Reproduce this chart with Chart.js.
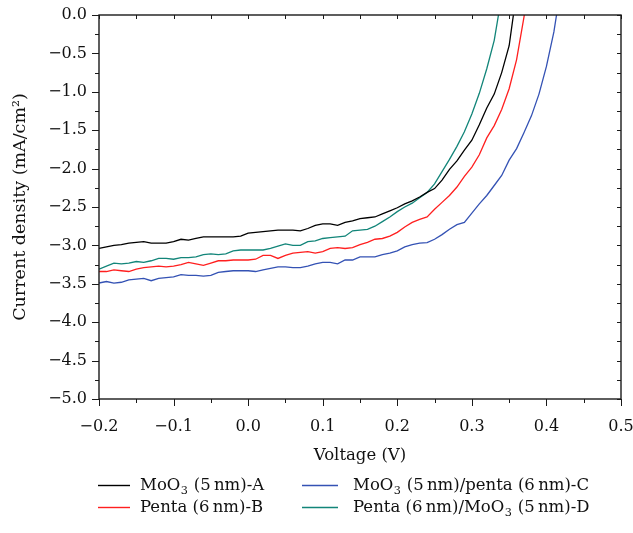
<!DOCTYPE html>
<html lang="en">
<head>
<meta charset="UTF-8">
<title>J–V curves</title>
<script src="https://cdn.jsdelivr.net/npm/chart.js"></script>
<style>
  html, body { margin: 0; padding: 0; background: #fff; }
</style>
</head>
<body>
<canvas id="jv" width="633" height="533"></canvas>
<script>
// voltage (V), 10 mV steps
const voltage = [
  -0.20, -0.19, -0.18, -0.17, -0.16, -0.15, -0.14, -0.13, -0.12, -0.11,
  -0.10, -0.09, -0.08, -0.07, -0.06, -0.05, -0.04, -0.03, -0.02, -0.01,
   0.00,  0.01,  0.02,  0.03,  0.04,  0.05,  0.06,  0.07,  0.08,  0.09,
   0.10,  0.11,  0.12,  0.13,  0.14,  0.15,  0.16,  0.17,  0.18,  0.19,
   0.20,  0.21,  0.22,  0.23,  0.24,  0.25,  0.26,  0.27,  0.28,  0.29,
   0.30,  0.31,  0.32,  0.33,  0.34,  0.35,  0.36,  0.37,  0.38,  0.39,
   0.40,  0.41,  0.42
];

// current density (mA/cm2)
const currentA = [
  -3.04, -3.02, -3.00, -2.99, -2.97, -2.96, -2.95, -2.97, -2.97, -2.97,
  -2.95, -2.92, -2.93, -2.91, -2.89, -2.89, -2.89, -2.89, -2.89, -2.88,
  -2.84, -2.83, -2.82, -2.81, -2.80, -2.80, -2.80, -2.81, -2.78, -2.74,
  -2.72, -2.72, -2.74, -2.70, -2.68, -2.65, -2.64, -2.63, -2.59, -2.55,
  -2.51, -2.46, -2.42, -2.37, -2.31, -2.26, -2.15, -2.01, -1.90, -1.76,
  -1.63, -1.43, -1.21, -1.03, -0.75, -0.40, 0.30
];
const currentB = [
  -3.34, -3.34, -3.32, -3.33, -3.34, -3.31, -3.29, -3.28, -3.27, -3.28,
  -3.27, -3.25, -3.22, -3.24, -3.26, -3.23, -3.20, -3.20, -3.19, -3.19,
  -3.19, -3.18, -3.13, -3.13, -3.17, -3.13, -3.10, -3.09, -3.08, -3.10,
  -3.08, -3.04, -3.03, -3.04, -3.03, -2.99, -2.96, -2.92, -2.91, -2.88,
  -2.83, -2.76, -2.70, -2.66, -2.63, -2.53, -2.44, -2.35, -2.24, -2.10,
  -1.98, -1.82, -1.60, -1.44, -1.23, -0.96, -0.58, -0.02, 0.60
];
const currentC = [
  -3.49, -3.47, -3.49, -3.48, -3.45, -3.44, -3.43, -3.46, -3.43, -3.42,
  -3.41, -3.38, -3.39, -3.39, -3.40, -3.39, -3.35, -3.34, -3.33, -3.33,
  -3.33, -3.34, -3.32, -3.30, -3.28, -3.28, -3.29, -3.29, -3.27, -3.24,
  -3.22, -3.22, -3.24, -3.19, -3.19, -3.15, -3.15, -3.15, -3.12, -3.10,
  -3.07, -3.02, -2.99, -2.97, -2.965, -2.92, -2.86, -2.79, -2.73, -2.70,
  -2.58, -2.46, -2.35, -2.22, -2.09, -1.89, -1.74, -1.53, -1.31, -1.03,
  -0.67, -0.22, 0.40
];
const currentD = [
  -3.31, -3.27, -3.23, -3.24, -3.23, -3.21, -3.22, -3.20, -3.17, -3.17,
  -3.18, -3.16, -3.16, -3.15, -3.12, -3.11, -3.12, -3.11, -3.07, -3.06,
  -3.06, -3.06, -3.06, -3.04, -3.01, -2.98, -3.00, -3.00, -2.95, -2.94,
  -2.91, -2.90, -2.89, -2.88, -2.81, -2.80, -2.79, -2.75, -2.69, -2.63,
  -2.56, -2.50, -2.45, -2.38, -2.31, -2.20, -2.04, -1.88, -1.71, -1.52,
  -1.29, -1.02, -0.70, -0.33, 0.25
];

const seriesLabels = [
  'MoO₃ (5\u2009nm)-A',
  'Penta (6\u2009nm)-B',
  'MoO₃ (5\u2009nm)/penta (6\u2009nm)-C',
  'Penta (6\u2009nm)/MoO₃ (5\u2009nm)-D'
];
const seriesValues = [currentA, currentB, currentC, currentD];
const seriesColors = ['#000000', '#ff1f1f', '#3452b4', '#128579'];

const FONT = '"DejaVu Serif", "Liberation Serif", serif';

function fmt(v) {
  if (Math.abs(v) < 1e-9) return '0.0';
  return v.toFixed(1).replace('-', '\u2212');
}

// draws a label, turning ₃ into a real lowered subscript
function drawRich(ctx, text, x, y, size) {
  const parts = text.split('₃');
  parts.forEach((p, i) => {
    ctx.font = size + 'px ' + FONT;
    ctx.fillText(p, x, y);
    x += ctx.measureText(p).width;
    if (i < parts.length - 1) {
      ctx.font = (size * 0.68) + 'px ' + FONT;
      ctx.fillText('3', x + 0.5, y + size * 0.22);
      x += ctx.measureText('3').width + 1;
    }
  });
}

// box frame, in/out ticks and the bottom legend
const frameAndLegend = {
  id: 'frameAndLegend',
  afterDraw(chart) {
    const { ctx, chartArea: a, scales: { x, y } } = chart;
    ctx.save();
    ctx.strokeStyle = '#1a1a1a';
    ctx.lineWidth = 1;
    ctx.beginPath();
    for (let k = 0; k <= 14; k++) {
      const px = Math.round(x.getPixelForValue(-0.2 + k * 0.05)) + 0.5;
      const len = k % 2 === 0 ? 7 : 4;
      ctx.moveTo(px, a.bottom); ctx.lineTo(px, a.bottom + len);
      ctx.moveTo(px, a.top); ctx.lineTo(px, a.top + 4);
    }
    for (let k = 0; k <= 20; k++) {
      const py = Math.round(y.getPixelForValue(-5 + k * 0.25)) + 0.5;
      const len = k % 2 === 0 ? 7 : 4;
      ctx.moveTo(a.left, py); ctx.lineTo(a.left - len, py);
      ctx.moveTo(a.right, py); ctx.lineTo(a.right - 4, py);
    }
    ctx.stroke();
    ctx.lineWidth = 1.4;
    ctx.strokeRect(a.left, a.top, a.right - a.left, a.bottom - a.top);

    // legend: two columns, two rows
    const cols = [[98, 130, 140], [302, 338, 353]];
    const rows = [490, 512];
    chart.data.datasets.forEach((ds, i) => {
      const c = cols[Math.floor(i / 2)];
      const r = rows[i % 2];
      ctx.strokeStyle = ds.borderColor;
      ctx.lineWidth = 1.4;
      ctx.beginPath();
      ctx.moveTo(c[0], r - 4.5); ctx.lineTo(c[1], r - 4.5);
      ctx.stroke();
      ctx.fillStyle = '#111';
      ctx.textBaseline = 'alphabetic';
      drawRich(ctx, ds.label, c[2], r, 16.5);
    });
    ctx.restore();
  }
};

new Chart(document.getElementById('jv'), {
  type: 'line',
  data: {
    datasets: seriesValues.map((vals, i) => ({
      label: seriesLabels[i],
      data: vals.map((j, k) => ({ x: voltage[k], y: j })),
      borderColor: seriesColors[i],
      borderWidth: 1.3,
      pointRadius: 0,
      tension: 0,
      fill: false
    }))
  },
  options: {
    responsive: false,
    animation: false,
    layout: { padding: { left: 0, right: 12, top: 15, bottom: 64 } },
    plugins: { legend: { display: false }, tooltip: { enabled: false } },
    scales: {
      x: {
        type: 'linear',
        min: -0.2,
        max: 0.5,
        grid: { display: false, drawTicks: false },
        border: { display: false },
        ticks: { stepSize: 0.1, padding: 18, color: '#111', font: { family: FONT, size: 16 }, callback: fmt, maxRotation: 0 },
        title: { display: true, text: 'Voltage (V)', color: '#111', font: { family: FONT, size: 16.5 }, padding: { top: 0, bottom: 3 } },
        afterFit(scale) {
          scale.height = 70;
          scale.paddingLeft = 0;
          scale.paddingRight = 0;
        }
      },
      y: {
        min: -5,
        max: 0,
        grid: { display: false, drawTicks: false },
        border: { display: false },
        ticks: { stepSize: 0.5, padding: 12, color: '#111', font: { family: FONT, size: 16 }, callback: fmt },
        title: { display: true, text: 'Current density (mA/cm²)', color: '#111', font: { family: FONT, size: 17.5 }, padding: { top: 10, bottom: 0 } },
        afterFit(scale) {
          scale.width = 99;
          scale.paddingTop = 0;
          scale.paddingBottom = 0;
        }
      }
    }
  },
  plugins: [frameAndLegend]
});
</script>
</body>
</html>
